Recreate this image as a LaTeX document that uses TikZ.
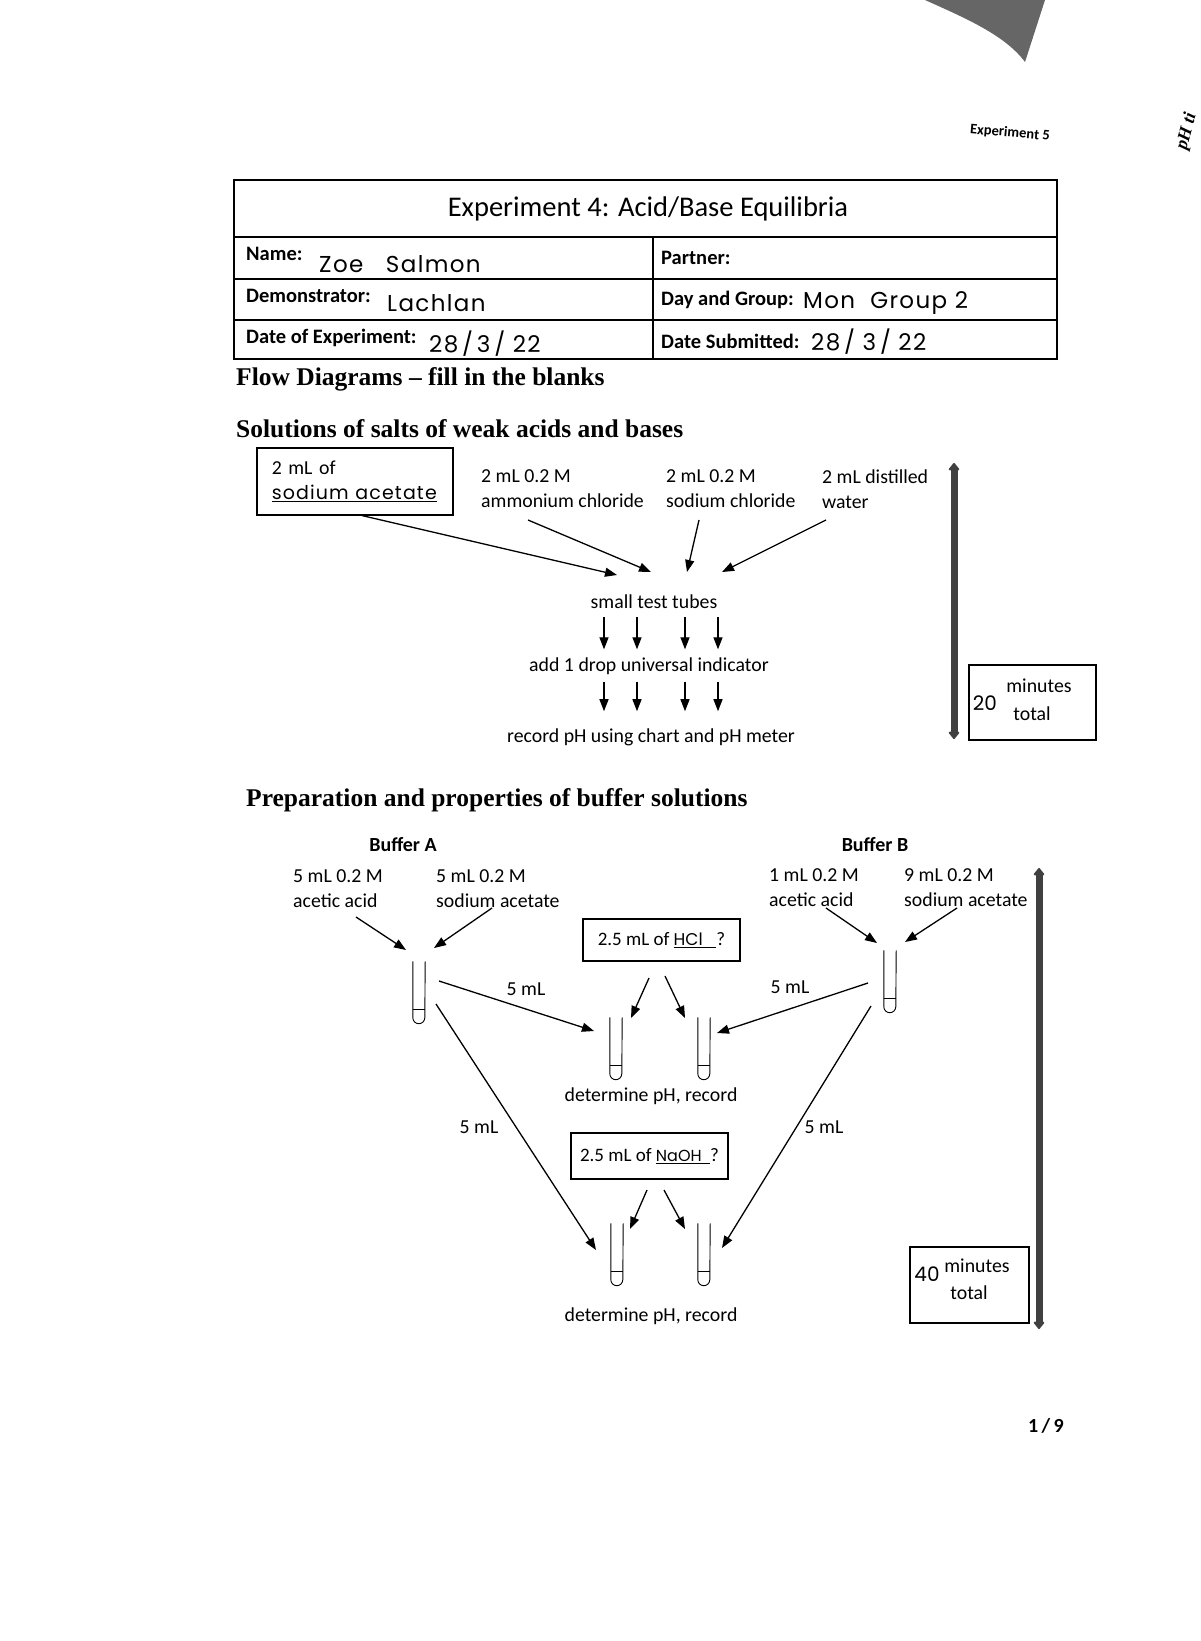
\documentclass[tikz,border=0pt]{standalone}
\usepackage{fontspec}
\setmainfont{Carlito}
\newfontfamily\headfont{Liberation Serif}
\newfontfamily\handfont{Poppins}[LetterSpace=6]
\newfontfamily\handplain{Poppins}
\usetikzlibrary{arrows.meta}

% a small test tube, drawn round a named node
\newcommand{\tube}[3]{%
  \node[minimum width=12pt,minimum height=63pt] (#1) at (#2,#3) {};
  \draw[line width=0.9pt] (#1.north west) -- ([yshift=7pt]#1.south west)
    arc[start angle=180,end angle=360,radius=6pt] -- (#1.north east);
  \draw[line width=0.9pt] ([yshift=15pt]#1.south west) -- ([yshift=15pt]#1.south east);}

\begin{document}
\begin{tikzpicture}[x=1pt,y=-1pt,>={Triangle[length=12pt,width=9pt]},
  every node/.style={inner sep=0pt},
  txt/.style={font=\fontsize{19.8}{25}\selectfont,align=left,anchor=west},
  ctxt/.style={font=\fontsize{19.8}{25}\selectfont,align=center},
  bold/.style={font=\bfseries\fontsize{20.5}{24}\selectfont,anchor=west},
  heading/.style={font=\headfont\bfseries\fontsize{25.5}{30}\selectfont,anchor=west},
  hand/.style={font=\handfont\fontsize{23}{26}\selectfont,anchor=west},
  flow/.style={->,line width=1.3pt},
  frame/.style={draw,line width=1.5pt},
  timebar/.style={line width=7pt,black!75,
    {Triangle[length=8pt,width=12pt,round]}-{Triangle[length=8pt,width=12pt,round]}}]
\useasboundingbox (0,0) rectangle (1200,1641);
\fill[white] (0,0) rectangle (1200,1641);

% page furniture
\fill[black!60] (925,0) .. controls (965,18) and (1005,35) .. (1025,62) -- (1045,0) -- cycle;
\node[font=\bfseries\fontsize{14.5}{16}\selectfont,rotate=-5] (expno) at (1010,133) {Experiment 5};
\node[font=\headfont\bfseries\itshape\fontsize{18}{20}\selectfont,rotate=75,anchor=west] (side) at (1182,150) {pH ti};
\node[font=\bfseries\fontsize{20}{22}\selectfont] (pageno) at (1046,1426) {1\,/\,9};

% header table
\draw[line width=1.5pt] (234,180) rectangle (1057,359);
\draw[line width=1.5pt] (234,237) -- (1057,237);
\draw[line width=1.5pt] (234,279) -- (1057,279);
\draw[line width=1.5pt] (234,320) -- (1057,320);
\draw[line width=1.5pt] (653,237) -- (653,359);
\node[font=\fontsize{28.5}{32}\selectfont] (title) at (648,209) {Experiment 4: Acid/Base Equilibria};
\node[bold] (name) at (246,254) {Name:};
\node[hand] (namev) at (319,264) {Zoe\ \ \ Salmon};
\node[bold] (partner) at (661,258) {Partner:};
\node[bold] (demo) at (246,296) {Demonstrator:};
\node[hand] (demov) at (387,303) {Lachlan};
\node[bold] (day) at (661,300) {Day and Group:};
\node[hand] (dayv) at (803,303) {Mon\ \ Group 2};
\node[bold] (date) at (246,338) {Date of Experiment:};
\node[hand] (datev) at (429,344) {28\,/\,3\,/\ 22};
\node[bold] (sub) at (661,341) {Date Submitted:};
\node[hand] (subv) at (811,342) {28\,/\ 3\,/\ 22};

\node[heading] (flowh) at (236,379) {Flow Diagrams \textendash\ fill in the blanks};
\node[heading] (salth) at (236,429) {Solutions of salts of weak acids and bases};

% salts
\node[frame,align=left,anchor=north west,text width=166pt,inner xsep=15pt,
  minimum height=67pt,font=\fontsize{19.8}{25}\selectfont] (sodac) at (256,447)
  {2 mL of\\{\handfont\fontsize{19}{25}\selectfont\underline{sodium acetate}}};
\node[txt] (amm) at (481,489) {2 mL 0.2 M\\ammonium chloride};
\node[txt] (nacl) at (666,489) {2 mL 0.2 M\\sodium chloride};
\node[txt] (water) at (822,489) {2 mL distilled\\water};
\node[ctxt] (tubes) at (654,602) {small test tubes};
\node[ctxt] (drop) at (649,666) {add 1 drop universal indicator};
\node[ctxt] (record) at (651,737) {record pH using chart and pH meter};

\coordinate (amm-out) at (528,520);
\coordinate (nacl-out) at (699,520);
\coordinate (water-out) at (826,520);
\coordinate (in1) at (617,575);
\coordinate (in2) at (651,572);
\coordinate (in3) at (687,572);
\coordinate (in4) at (722,572);
\draw[flow] ([xshift=7pt]sodac.south) -- (in1);
\draw[flow] (amm-out) -- (in2);
\draw[flow] (nacl-out) -- (in3);
\draw[flow] (water-out) -- (in4);
\foreach \dx in {-50,-17,31,64}{
  \draw[flow,shorten <=8pt,shorten >=8pt] ([xshift=\dx pt]tubes.south) -- ([xshift=\dx pt]tubes.south |- drop.north);
  \draw[flow,shorten <=7pt,shorten >=17pt] ([xshift=\dx pt]tubes.south |- drop.south) -- ([xshift=\dx pt]tubes.south |- record.north);
}

\coordinate (bar1top) at (954,463);
\coordinate (bar1bot) at (954,739);
\draw[timebar] (bar1top) -- (bar1bot);
\node[frame,minimum width=127pt,minimum height=75pt] (box20) at (1032.5,702.5) {};
\node[font=\handplain\fontsize{20}{22}\selectfont] (t20) at (985,703) {20};
\node[ctxt] (min20) at (1039,686) {minutes};
\node[ctxt] (tot20) at (1032,714) {total};

% buffers
\node[heading] (bufh) at (246,800) {Preparation and properties of buffer solutions};
\node[font=\bfseries\fontsize{20}{24}\selectfont] (bufA) at (403,845) {Buffer A};
\node[font=\bfseries\fontsize{20}{24}\selectfont] (bufB) at (875,845) {Buffer B};
\node[txt] (acA) at (293,889) {5 mL 0.2 M\\acetic acid};
\node[txt] (saA) at (436,889) {5 mL 0.2 M\\sodium acetate};
\node[txt] (acB) at (769,888) {1 mL 0.2 M\\acetic acid};
\node[txt] (saB) at (904,888) {9 mL 0.2 M\\sodium acetate};

\tube{tA}{419}{993}
\tube{tB}{890}{982}
\tube{tM1}{616}{1049}
\tube{tM2}{704}{1049}
\tube{tL1}{617}{1255}
\tube{tL2}{704}{1255}

\node[frame,minimum width=157pt,minimum height=42pt,font=\fontsize{19}{22}\selectfont] (hcl) at (661.5,940)
  {2.5 mL of \underline{\handplain\fontsize{17}{20}\selectfont HCl\ \ \ }?};
\node[frame,minimum width=157pt,minimum height=46pt,font=\fontsize{19}{22}\selectfont] (naoh) at (649.5,1156)
  {2.5 mL of \underline{\handplain\fontsize{16}{20}\selectfont NaOH\ \ }?};
\node[ctxt] (det1) at (651,1096) {determine pH, record};
\node[ctxt] (det2) at (651,1316) {determine pH, record};
\node[ctxt] (ml1) at (526,989) {5 mL};
\node[ctxt] (ml2) at (790,987) {5 mL};
\node[ctxt] (ml3) at (479,1127) {5 mL};
\node[ctxt] (ml4) at (824,1127) {5 mL};

\coordinate (acA-out) at (356,917);
\coordinate (acA-in) at (406,950);
\coordinate (saA-out) at (492,908);
\coordinate (saA-in) at (434,948);
\coordinate (acB-out) at (826,908);
\coordinate (acB-in) at (877,943);
\coordinate (saB-out) at (957,908);
\coordinate (saB-in) at (905,942);
\draw[flow] (acA-out) -- (acA-in);
\draw[flow] (saA-out) -- (saA-in);
\draw[flow] (acB-out) -- (acB-in);
\draw[flow] (saB-out) -- (saB-in);

\coordinate (tA-a) at (439,981);
\coordinate (tM1-a) at (594,1031);
\coordinate (tB-a) at (868,983);
\coordinate (tM2-a) at (717,1033);
\coordinate (hcl-a) at (649,978);
\coordinate (hcl-b) at (665,976);
\coordinate (tM1-b) at (631,1018);
\coordinate (tM2-b) at (685,1018);
\draw[flow] (tA-a) -- (tM1-a);
\draw[flow] (tB-a) -- (tM2-a);
\draw[flow] (hcl-a) -- (tM1-b);
\draw[flow] (hcl-b) -- (tM2-b);

\coordinate (tA-b) at (436,1004);
\coordinate (tL1-a) at (596,1250);
\coordinate (tB-b) at (871,1006);
\coordinate (tL2-a) at (722,1248);
\coordinate (naoh-a) at (647,1190);
\coordinate (naoh-b) at (664,1190);
\coordinate (tL1-b) at (630,1229);
\coordinate (tL2-b) at (685,1229);
\draw[flow] (tA-b) -- (tL1-a);
\draw[flow] (tB-b) -- (tL2-a);
\draw[flow] (naoh-a) -- (tL1-b);
\draw[flow] (naoh-b) -- (tL2-b);

\coordinate (bar2top) at (1039,868);
\coordinate (bar2bot) at (1039,1329);
\draw[timebar] (bar2top) -- (bar2bot);
\node[frame,minimum width=119pt,minimum height=76pt] (box40) at (969.5,1285) {};
\node[font=\handplain\fontsize{20}{22}\selectfont] (t40) at (927,1274) {40};
\node[ctxt] (min40) at (977,1266) {minutes};
\node[ctxt] (tot40) at (969,1293) {total};
\end{tikzpicture}
\end{document}
